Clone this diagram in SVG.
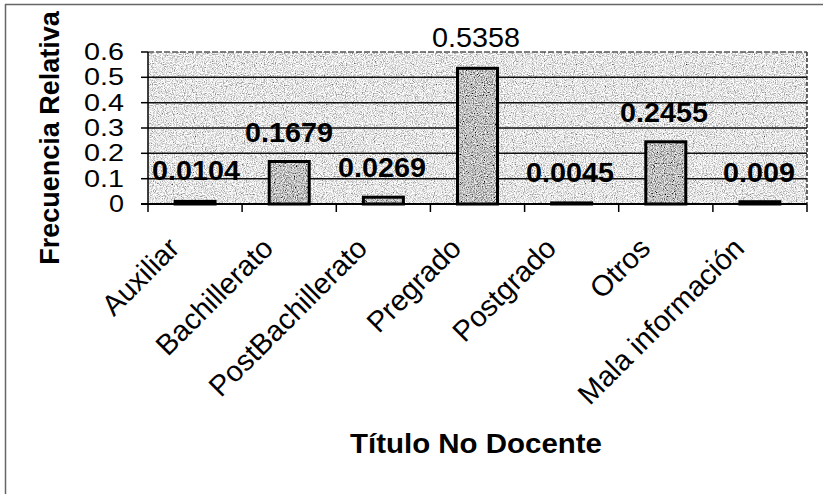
<svg xmlns="http://www.w3.org/2000/svg" width="823" height="494" viewBox="0 0 823 494">
<style>
.t{font-family:"Liberation Sans",Arial,sans-serif;fill:#000}
.b{font-weight:bold}
.dl{font-size:27px;text-anchor:middle}
.yl{font-size:23px;text-anchor:end}
.xl{font-size:29px;text-anchor:end}
.grid{stroke:#111;stroke-width:1.5}
.bar{fill:none;stroke:#000;stroke-width:3}
.tick{stroke:#000;stroke-width:1.5}
</style>
<defs>
<filter id="speckLight" x="0" y="0" width="100%" height="100%">
<feTurbulence type="fractalNoise" baseFrequency="0.9" numOctaves="2" seed="4" result="n"/>
<feColorMatrix in="n" type="matrix" values="1.8 0 0 0 -0.12  1.8 0 0 0 -0.12  1.8 0 0 0 -0.12  0 0 0 0 1" result="g"/>
<feComposite in="g" in2="SourceAlpha" operator="in"/>
</filter>
<filter id="speckDark" x="0" y="0" width="100%" height="100%">
<feTurbulence type="fractalNoise" baseFrequency="0.9" numOctaves="2" seed="9" result="n"/>
<feColorMatrix in="n" type="matrix" values="1.8 0 0 0 -0.38  1.8 0 0 0 -0.38  1.8 0 0 0 -0.38  0 0 0 0 1" result="g"/>
<feComposite in="g" in2="SourceAlpha" operator="in"/>
</filter>
</defs>
<rect x="0" y="0" width="823" height="494" fill="#fff"/>
<g id="frame">
<line x1="5.5" y1="4" x2="5.5" y2="494" stroke="#666" stroke-width="1.5"/>
<line x1="5" y1="4.5" x2="823" y2="4.5" stroke="#666" stroke-width="1.5"/>
</g>
<g id="plot">
<rect x="148" y="52" width="659" height="152" fill="#c8c8c8" filter="url(#speckLight)"/>
<line x1="148" y1="52" x2="807" y2="52" stroke="#555" stroke-width="1.5" stroke-dasharray="6 2"/>
<line x1="807" y1="52" x2="807" y2="204" stroke="#333" stroke-width="1.5" stroke-dasharray="4 2"/>
<line class="grid" x1="148" y1="77.3" x2="807" y2="77.3"/>
<line class="grid" x1="148" y1="102.7" x2="807" y2="102.7"/>
<line class="grid" x1="148" y1="128" x2="807" y2="128"/>
<line class="grid" x1="148" y1="153.3" x2="807" y2="153.3"/>
<line class="grid" x1="148" y1="178.7" x2="807" y2="178.7"/>
</g>
<g id="bars">
<g id="bar-auxiliar"><rect x="175.1" y="201.4" width="40" height="2.6" fill="#888" filter="url(#speckDark)"/><rect class="bar" x="175.1" y="201.4" width="40" height="2.6"/></g>
<g id="bar-bachillerato"><rect x="269.2" y="161.5" width="40" height="42.5" fill="#888" filter="url(#speckDark)"/><rect class="bar" x="269.2" y="161.5" width="40" height="42.5"/></g>
<g id="bar-postbachillerato"><rect x="363.4" y="197.2" width="40" height="6.8" fill="#888" filter="url(#speckDark)"/><rect class="bar" x="363.4" y="197.2" width="40" height="6.8"/></g>
<g id="bar-pregrado"><rect x="457.5" y="68.3" width="40" height="135.7" fill="#888" filter="url(#speckDark)"/><rect class="bar" x="457.5" y="68.3" width="40" height="135.7"/></g>
<g id="bar-postgrado"><rect x="551.6" y="202.9" width="40" height="1.1" fill="#888" filter="url(#speckDark)"/><rect class="bar" x="551.6" y="202.9" width="40" height="1.1"/></g>
<g id="bar-otros"><rect x="645.8" y="141.8" width="40" height="62.2" fill="#888" filter="url(#speckDark)"/><rect class="bar" x="645.8" y="141.8" width="40" height="62.2"/></g>
<g id="bar-mala"><rect x="739.9" y="201.7" width="40" height="2.3" fill="#888" filter="url(#speckDark)"/><rect class="bar" x="739.9" y="201.7" width="40" height="2.3"/></g>
</g>
<g id="axes">
<line x1="148" y1="52" x2="148" y2="204" stroke="#000" stroke-width="1.5"/>
<line x1="141" y1="204" x2="807" y2="204" stroke="#000" stroke-width="2"/>
<line class="tick" x1="141" y1="52" x2="148" y2="52"/>
<line class="tick" x1="141" y1="77.3" x2="148" y2="77.3"/>
<line class="tick" x1="141" y1="102.7" x2="148" y2="102.7"/>
<line class="tick" x1="141" y1="128" x2="148" y2="128"/>
<line class="tick" x1="141" y1="153.3" x2="148" y2="153.3"/>
<line class="tick" x1="141" y1="178.7" x2="148" y2="178.7"/>
<line class="tick" x1="148" y1="204" x2="148" y2="212"/>
<line class="tick" x1="242.1" y1="204" x2="242.1" y2="212"/>
<line class="tick" x1="336.3" y1="204" x2="336.3" y2="212"/>
<line class="tick" x1="430.4" y1="204" x2="430.4" y2="212"/>
<line class="tick" x1="524.6" y1="204" x2="524.6" y2="212"/>
<line class="tick" x1="618.7" y1="204" x2="618.7" y2="212"/>
<line class="tick" x1="712.9" y1="204" x2="712.9" y2="212"/>
<line class="tick" x1="807" y1="204" x2="807" y2="212"/>
</g>
<g id="y-labels">
<text class="t yl" x="124" y="60" textLength="40" lengthAdjust="spacingAndGlyphs">0.6</text>
<text class="t yl" x="124" y="85.3" textLength="40" lengthAdjust="spacingAndGlyphs">0.5</text>
<text class="t yl" x="124" y="110.7" textLength="40" lengthAdjust="spacingAndGlyphs">0.4</text>
<text class="t yl" x="124" y="136" textLength="40" lengthAdjust="spacingAndGlyphs">0.3</text>
<text class="t yl" x="124" y="161.3" textLength="40" lengthAdjust="spacingAndGlyphs">0.2</text>
<text class="t yl" x="124" y="186.7" textLength="40" lengthAdjust="spacingAndGlyphs">0.1</text>
<text class="t yl" x="124" y="212" textLength="15" lengthAdjust="spacingAndGlyphs">0</text>
</g>
<g id="data-labels">
<text class="t b dl" x="196" y="180" textLength="88" lengthAdjust="spacingAndGlyphs">0.0104</text>
<text class="t b dl" x="289" y="142" textLength="88" lengthAdjust="spacingAndGlyphs">0.1679</text>
<text class="t b dl" x="382" y="177" textLength="88" lengthAdjust="spacingAndGlyphs">0.0269</text>
<text class="t dl" x="476" y="47" textLength="88" lengthAdjust="spacingAndGlyphs">0.5358</text>
<text class="t b dl" x="570" y="182" textLength="88" lengthAdjust="spacingAndGlyphs">0.0045</text>
<text class="t b dl" x="664" y="122" textLength="88" lengthAdjust="spacingAndGlyphs">0.2455</text>
<text class="t b dl" x="759" y="182" textLength="72" lengthAdjust="spacingAndGlyphs">0.009</text>
</g>
<g id="x-labels">
<text class="t xl" transform="translate(181,250) rotate(-45)">Auxiliar</text>
<text class="t xl" transform="translate(275,250) rotate(-45)">Bachillerato</text>
<text class="t xl" transform="translate(369,250) rotate(-45)">PostBachillerato</text>
<text class="t xl" transform="translate(463,250) rotate(-45)">Pregrado</text>
<text class="t xl" transform="translate(558,250) rotate(-45)">Postgrado</text>
<text class="t xl" transform="translate(652,250) rotate(-45)">Otros</text>
<text class="t xl" transform="translate(746,250) rotate(-45)">Mala información</text>
</g>
<g id="axis-titles">
<text class="t b" x="476" y="453" font-size="28" text-anchor="middle" textLength="252" lengthAdjust="spacingAndGlyphs">Título No Docente</text>
<text class="t b" font-size="27" text-anchor="middle" transform="translate(59,138) rotate(-90)">Frecuencia Relativa</text>
</g>
</svg>
